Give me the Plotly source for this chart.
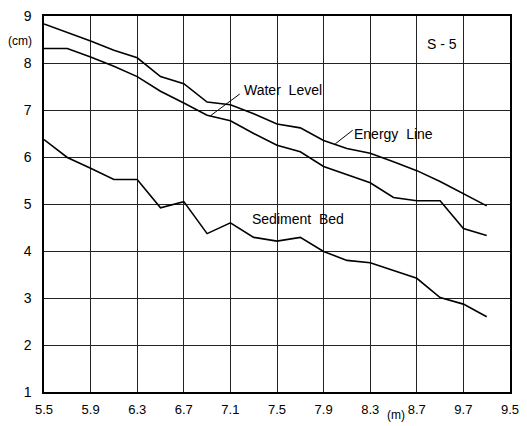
import plotly.graph_objects as go

# distance along flume (m)
x_m = [5.5, 5.7, 5.9, 6.1, 6.3, 6.5, 6.7, 6.9, 7.1, 7.3, 7.5, 7.7, 7.9,
       8.1, 8.3, 8.5, 8.7, 8.9, 9.1, 9.3]

# elevations (cm)
energy_line = [8.83, 8.65, 8.47, 8.27, 8.11, 7.71, 7.56, 7.17, 7.11, 6.92, 6.70,
               6.62, 6.35, 6.18, 6.08, 5.90, 5.71, 5.48, 5.22, 4.96]
water_level = [8.31, 8.31, 8.13, 7.93, 7.71, 7.40, 7.15, 6.89, 6.77, 6.50, 6.25,
               6.11, 5.80, 5.62, 5.45, 5.14, 5.07, 5.07, 4.48, 4.33]
sediment_bed = [6.37, 5.99, 5.76, 5.52, 5.52, 4.92, 5.05, 4.37, 4.60, 4.29, 4.21,
                4.29, 3.99, 3.80, 3.75, 3.58, 3.42, 3.01, 2.87, 2.60]

x_ticks = [5.5, 5.9, 6.3, 6.7, 7.1, 7.5, 7.9, 8.3, 8.7, 9.1, 9.5]
x_tick_text = ["5.5", "5.9", "6.3", "6.7", "7.1", "7.5", "7.9", "8.3", "8.7", "9.7", "9.5"]
y_ticks = [1, 2, 3, 4, 5, 6, 7, 8, 9]

FONT = "Liberation Sans"
line_style = dict(color="black", width=1.6)
label_font = dict(size=14, family=FONT, color="black")

fig = go.Figure()
for name, ys in [("Energy Line", energy_line), ("Water Level", water_level),
                 ("Sediment Bed", sediment_bed)]:
    fig.add_trace(go.Scatter(x=x_m, y=ys, mode="lines", name=name,
                             line=line_style, showlegend=False))

# labels with leader lines
fig.add_annotation(x=7.55, y=7.42, text="Water  Level", showarrow=False, font=label_font)
fig.add_annotation(x=8.50, y=6.48, text="Energy  Line", showarrow=False, font=label_font)
fig.add_annotation(x=7.68, y=4.69, text="Sediment  Bed", showarrow=False, font=label_font)
fig.add_annotation(x=8.92, y=8.40, text="S - 5", showarrow=False, font=label_font)
fig.add_shape(type="line", x0=7.18, y0=7.34, x1=6.93, y1=6.88,
              line=dict(color="black", width=1))
fig.add_shape(type="line", x0=8.15, y0=6.57, x1=8.0, y1=6.28,
              line=dict(color="black", width=1))

# axis units
fig.add_annotation(xref="paper", yref="paper", x=-0.052, y=0.933, text="(cm)",
                   showarrow=False, xanchor="center", yanchor="middle",
                   font=dict(size=12, family=FONT, color="black"))
fig.add_annotation(xref="paper", yref="paper", x=0.756, y=-0.06, text="(m)",
                   showarrow=False, xanchor="center", yanchor="middle",
                   font=dict(size=12, family=FONT, color="black"))

axis_common = dict(showgrid=True, gridcolor="#222222", gridwidth=1,
                   showline=True, linecolor="black", linewidth=1.5, mirror=True,
                   zeroline=False, ticks="")

fig.update_xaxes(range=[5.5, 9.5], tickvals=x_ticks, ticktext=x_tick_text,
                 ticklabelstandoff=5, tickfont=dict(size=13, family=FONT, color="black"),
                 **axis_common)
fig.update_yaxes(range=[1, 9], tickvals=y_ticks, ticklabelstandoff=8,
                 tickfont=dict(size=14, family=FONT, color="black"), **axis_common)

fig.update_layout(
    width=527, height=426,
    margin=dict(l=44, r=8, t=9, b=34),
    plot_bgcolor="white", paper_bgcolor="white",
)

fig.write_html("out.html", config={"displayModeBar": False},
               post_script="document.body.style.margin='0';")
